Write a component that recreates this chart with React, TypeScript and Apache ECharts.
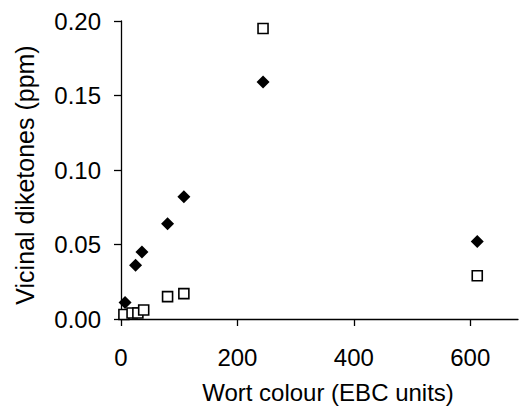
import React, { useEffect, useRef } from "react";
import * as echarts from "echarts";

const xTitle = "Wort colour (EBC units)";
const yTitle = "Vicinal diketones (ppm)";

const diamondX = [7, 25, 36, 80, 108, 244, 612];
const diamondY = [0.011, 0.036, 0.045, 0.064, 0.082, 0.159, 0.052];

const squareX = [5, 19, 29, 39, 80, 108, 244, 612];
const squareY = [0.003, 0.004, 0.004, 0.006, 0.015, 0.017, 0.195, 0.029];

const FONT = "'Liberation Sans', Arial, sans-serif";

export default function App() {
  const ref = useRef<HTMLDivElement>(null);
  useEffect(() => {
    if (!ref.current) return;
    const chart = echarts.init(ref.current, undefined, { renderer: "svg" });
    chart.setOption({
      animation: false,
      backgroundColor: "#ffffff",
      grid: { left: 121, top: 21, right: 3, bottom: 87, containLabel: false },
      xAxis: {
        type: "value",
        min: 0,
        max: 682,
        interval: 200,
        splitLine: { show: false },
        axisLine: { onZero: false, lineStyle: { color: "#000", width: 1.3 } },
        axisTick: { show: true, length: 7, inside: false, lineStyle: { color: "#000", width: 1.3 } },
        axisLabel: {
          margin: 26,
          color: "#000",
          fontSize: 24,
          fontFamily: FONT,
          showMaxLabel: false,
        },
      },
      yAxis: {
        type: "value",
        min: 0,
        max: 0.2,
        interval: 0.05,
        splitLine: { show: false },
        axisLine: { show: true, onZero: false, lineStyle: { color: "#000", width: 1.3 } },
        axisTick: { show: true, length: 7, inside: false, lineStyle: { color: "#000", width: 1.3 } },
        axisLabel: {
          margin: 20,
          color: "#000",
          fontSize: 24,
          fontFamily: FONT,
          formatter: (v: number) => v.toFixed(2),
        },
      },
      graphic: [
        {
          type: "text",
          x: 328,
          y: 392,
          style: {
            text: xTitle,
            fill: "#000",
            font: `24px ${FONT}`,
            align: "center",
            verticalAlign: "middle",
          },
        },
        {
          type: "text",
          x: 25,
          y: 175,
          rotation: Math.PI / 2,
          style: {
            text: yTitle,
            fill: "#000",
            font: `25px ${FONT}`,
            align: "center",
            verticalAlign: "middle",
          },
        },
      ],
      series: [
        {
          type: "scatter",
          symbol: "rect",
          symbolSize: 10,
          itemStyle: { color: "#fff", borderColor: "#000", borderWidth: 1.6, opacity: 1 },
          data: squareX.map((x, i) => [x, squareY[i]]),
          z: 2,
        },
        {
          type: "scatter",
          symbol: "diamond",
          symbolSize: 13,
          itemStyle: { color: "#000", opacity: 1 },
          data: diamondX.map((x, i) => [x, diamondY[i]]),
          z: 3,
        },
      ],
    });
    return () => chart.dispose();
  }, []);
  return (
    <div
      ref={ref}
      style={{ position: "absolute", left: 0, top: 0, width: 521, height: 406 }}
    />
  );
}
